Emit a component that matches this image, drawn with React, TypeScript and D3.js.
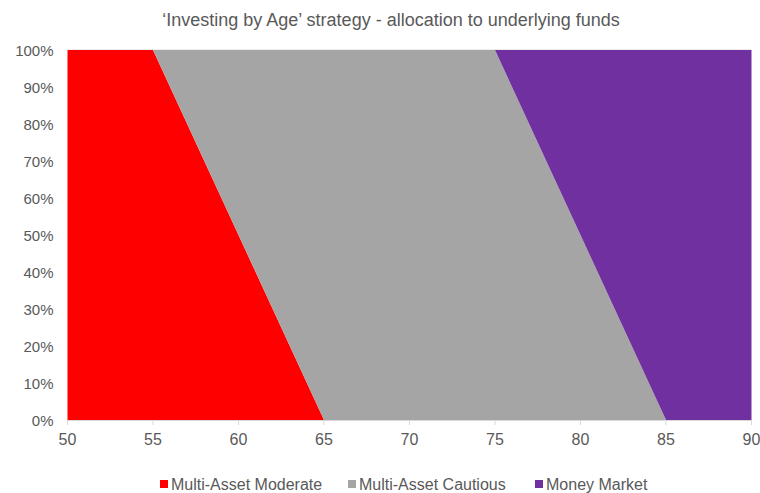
import React from "react";
import * as d3 from "d3";

const ages = [50, 55, 65, 75, 85, 90];
const moderate = [100, 100, 0, 0, 0, 0];
const cautious = [0, 0, 100, 100, 0, 0];
const moneyMarket = [0, 0, 0, 0, 100, 100];
const seriesNames = ["Multi-Asset Moderate", "Multi-Asset Cautious", "Money Market"];
const seriesColors = ["#ff0000", "#a5a5a5", "#7030a0"];
const xTicks = [50, 55, 60, 65, 70, 75, 80, 85, 90];
const yTicks = [0, 10, 20, 30, 40, 50, 60, 70, 80, 90, 100];
const title = "\u2018Investing by Age\u2019 strategy - allocation to underlying funds";

const W = 760, H = 493;
const M = { left: 67.5, right: 751.5, top: 50, bottom: 420 };

export default function App() {
  const x = d3.scaleLinear().domain([50, 90]).range([M.left, M.right]);
  const y = d3.scaleLinear().domain([0, 100]).range([M.bottom, M.top]);
  const rows = ages.map((a, i) => ({ age: a, m: moderate[i], c: cautious[i], mm: moneyMarket[i] }));
  const stack = d3.stack<any>().keys(["m", "c", "mm"])(rows);
  const area = d3.area<any>().x((d) => x(d.data.age)).y0((d) => y(d[0])).y1((d) => y(d[1]));
  const font = "'Liberation Sans', Arial, sans-serif";
  const textColor = "#595959";
  const legendX = [160, 348, 535];
  return (
    <svg width={W} height={H} style={{ position: "absolute", left: 0, top: 0, background: "#fff" }} fontFamily={font}>
      <text x={391} y={26} textAnchor="middle" fontSize={18} fill={textColor}>{title}</text>
      <line x1={M.left} x2={M.right} y1={y(100)} y2={y(100)} stroke="#d9d9d9" />
      {stack.map((s, i) => (
        <path key={i} d={area(s) || ""} fill={seriesColors[i]} />
      ))}
      <line x1={M.left} x2={M.right} y1={M.bottom + 0.5} y2={M.bottom + 0.5} stroke="#d9d9d9" />
      {xTicks.map((t) => (
        <g key={t}>
          <line x1={x(t)} x2={x(t)} y1={M.bottom} y2={M.bottom + 5} stroke="#d9d9d9" />
          <text x={x(t)} y={M.bottom + 25} textAnchor="middle" fontSize={16} fill={textColor}>{t}</text>
        </g>
      ))}
      {yTicks.map((t) => (
        <text key={t} x={53.5} y={y(t) + 5.5} textAnchor="end" fontSize={15} fill={textColor}>{t}%</text>
      ))}
      {seriesNames.map((n, i) => (
        <g key={n}>
          <rect x={legendX[i]} y={480} width={8} height={8} fill={seriesColors[i]} />
          <text x={legendX[i] + 11} y={490} fontSize={16} fill={textColor}>{n}</text>
        </g>
      ))}
    </svg>
  );
}
